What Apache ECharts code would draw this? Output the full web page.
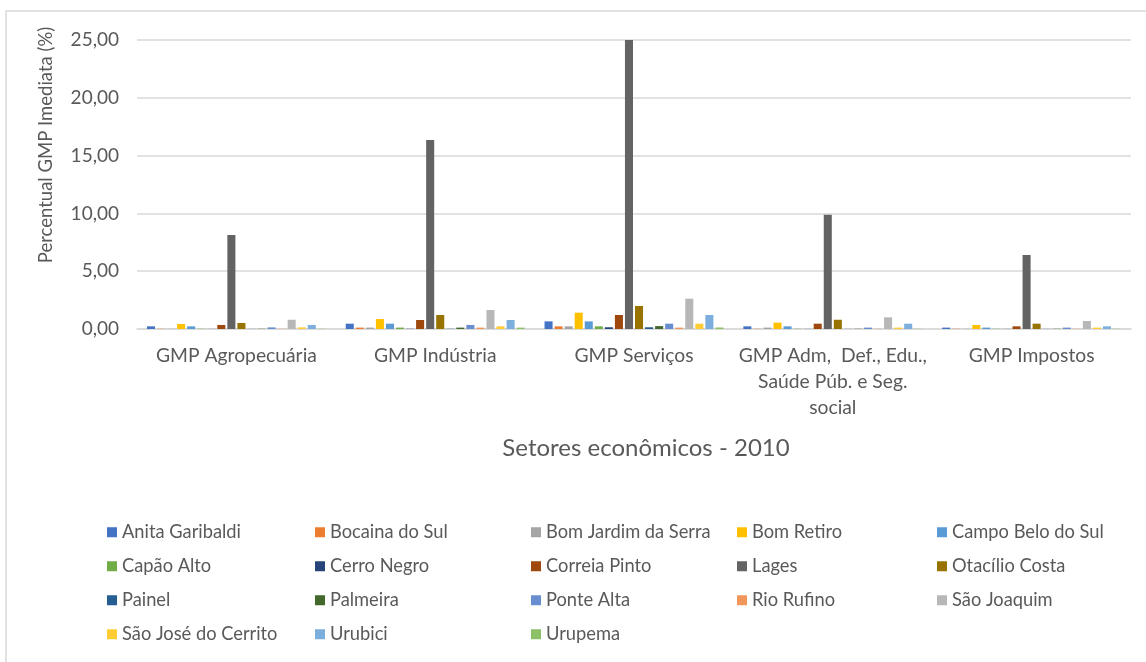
<!DOCTYPE html>
<html>
<head>
<meta charset="utf-8">
<script src="https://cdn.jsdelivr.net/npm/echarts@6/dist/echarts.min.js"></script>
<style>
html,body{margin:0;padding:0;background:#fff;}
#chart{width:1146px;height:662px;}
</style>
</head>
<body>
<div id="chart"></div>
<script>
const categories = ['GMP Agropecuária', 'GMP Indústria', 'GMP Serviços', 'GMP Adm,  Def., Edu.,\nSaúde Púb. e Seg.\nsocial', 'GMP Impostos'];
const yTicks = [0, 5, 10, 15, 20, 25];

const anitaGaribaldi   = [0.23, 0.46, 0.66, 0.23, 0.12];
const bocainaDoSul     = [0.02, 0.12, 0.23, 0.02, 0.02];
const bomJardimDaSerra = [0.02, 0.12, 0.23, 0.12, 0.02];
const bomRetiro        = [0.43, 0.86, 1.41, 0.55, 0.35];
const campoBeloDoSul   = [0.23, 0.46, 0.66, 0.23, 0.12];
const capaoAlto        = [0.02, 0.12, 0.23, 0.02, 0.02];
const cerroNegro       = [0.01, 0.02, 0.15, 0.01, 0.01];
const correiaPinto     = [0.35, 0.78, 1.21, 0.46, 0.23];
const lages            = [8.13, 16.35, 25.0, 9.89, 6.40];
const otacilioCosta    = [0.52, 1.21, 1.99, 0.80, 0.46];
const painel           = [0.01, 0.02, 0.15, 0.01, 0.01];
const palmeira         = [0.02, 0.12, 0.25, 0.02, 0.02];
const ponteAlta        = [0.14, 0.35, 0.46, 0.12, 0.12];
const rioRufino        = [0.02, 0.12, 0.12, 0.02, 0.02];
const saoJoaquim       = [0.80, 1.64, 2.62, 1.01, 0.69];
const saoJoseDoCerrito = [0.14, 0.23, 0.46, 0.12, 0.12];
const urubici          = [0.35, 0.78, 1.21, 0.46, 0.23];
const urupema          = [0.02, 0.12, 0.13, 0.02, 0.02];

const seriesNames = ['Anita Garibaldi','Bocaina do Sul','Bom Jardim da Serra','Bom Retiro','Campo Belo do Sul','Capão Alto','Cerro Negro','Correia Pinto','Lages','Otacílio Costa','Painel','Palmeira','Ponte Alta','Rio Rufino','São Joaquim','São José do Cerrito','Urubici','Urupema'];
const seriesValues = [anitaGaribaldi,bocainaDoSul,bomJardimDaSerra,bomRetiro,campoBeloDoSul,capaoAlto,cerroNegro,correiaPinto,lages,otacilioCosta,painel,palmeira,ponteAlta,rioRufino,saoJoaquim,saoJoseDoCerrito,urubici,urupema];
const colors = ['#4472C4','#ED7D31','#A5A5A5','#FFC000','#5B9BD5','#70AD47','#264478','#9E480E','#636363','#997300','#255E91','#43682B','#698ED0','#F1975A','#B7B7B7','#FFCD33','#7CAFDD','#8CC168'];

const FONT = 'Lato';
const TXT = '#595959';

const legendCols = [
  {left: 102, names: [0, 5, 10, 15]},
  {left: 310, names: [1, 6, 11, 16]},
  {left: 526, names: [2, 7, 12, 17]},
  {left: 732, names: [3, 8, 13]},
  {left: 932, names: [4, 9, 14]}
];

const chart = echarts.init(document.getElementById('chart'));
chart.setOption({
  animation: false,
  color: colors,
  textStyle: {fontFamily: FONT},
  grid: {left: 137, right: 15, top: 40, bottom: 333, containLabel: false},
  graphic: [
    {type: 'rect', shape: {x: 6, y: 11, width: 1300, height: 800}, style: {fill: 'none', stroke: '#D9D9D9', lineWidth: 1.5}, silent: true},
    {type: 'text', x: 46, y: 145, rotation: Math.PI / 2,
      style: {text: 'Percentual GMP Imediata (%)', fontFamily: FONT, fontSize: 18.5, fill: TXT, align: 'center', verticalAlign: 'middle'}}
  ],
  legend: legendCols.map(c => ({
    orient: 'vertical',
    left: c.left,
    top: 517,
    itemWidth: 10,
    itemHeight: 10,
    itemGap: 13.5,
    icon: 'rect',
    selectedMode: false,
    textStyle: {fontFamily: FONT, fontSize: 18.3, color: TXT, lineHeight: 20.5},
    data: c.names.map(i => seriesNames[i])
  })),
  xAxis: {
    type: 'category',
    data: categories,
    axisLine: {lineStyle: {color: '#D9D9D9', width: 1.5}},
    axisTick: {show: false},
    axisLabel: {fontFamily: FONT, fontSize: 19.3, color: TXT, margin: 14, lineHeight: 26, interval: 0},
    name: 'Setores econômicos - 2010',
    nameLocation: 'middle',
    nameGap: 107,
    nameTextStyle: {fontFamily: FONT, fontSize: 24, color: TXT, padding: [0, 0, 0, 24]}
  },
  yAxis: {
    type: 'value',
    min: 0,
    max: 25,
    interval: 5,
    axisLine: {show: false},
    axisTick: {show: false},
    splitLine: {lineStyle: {color: '#D9D9D9', width: 1.5}},
    axisLabel: {fontFamily: FONT, fontSize: 19, color: TXT, margin: 18,
      formatter: v => v.toFixed(2).replace('.', ',')}
  },
  series: seriesNames.map((n, i) => ({
    name: n,
    type: 'bar',
    data: seriesValues[i],
    barGap: '25%',
    barCategoryGap: '10%',
    itemStyle: {color: colors[i]}
  }))
});
</script>
</body>
</html>
